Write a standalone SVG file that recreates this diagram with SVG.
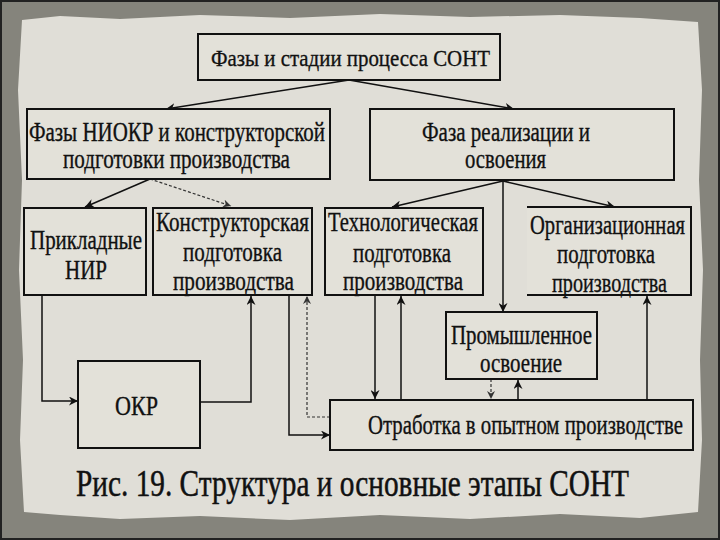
<svg xmlns="http://www.w3.org/2000/svg" width="720" height="540" viewBox="0 0 720 540">
<style>
.box{fill:#e3e1d9;stroke:#111;stroke-width:2}
.t{font-family:"Liberation Serif","Times New Roman","DejaVu Serif",serif;font-size:27px;fill:#111;stroke:#111;stroke-width:0.35}
.c{fill:none;stroke:#111;stroke-width:1.5}
.d{fill:none;stroke:#333;stroke-width:1.2;stroke-dasharray:3 2}
</style>
<defs>
<marker id="a" viewBox="0 0 10 10" refX="10" refY="5" markerWidth="9" markerHeight="9" markerUnits="userSpaceOnUse" orient="auto">
<path d="M0,0 L10,5 L0,10 L3,5 Z" fill="#111"/>
</marker>
<marker id="ad" viewBox="0 0 10 10" refX="10" refY="5" markerWidth="8" markerHeight="8" markerUnits="userSpaceOnUse" orient="auto">
<path d="M0,0 L10,5 L0,10 L3,5 Z" fill="#333"/>
</marker>
</defs>
<rect x="0" y="0" width="720" height="540" fill="#85847c"/>
<path d="M22,20 L60,16 L120,19 L200,15 L290,18 L380,14 L470,17 L560,15 L640,18 L698,22 L702,90 L699,180 L703,270 L700,360 L702,440 L698,512 L640,518 L560,514 L470,519 L380,515 L290,520 L200,516 L120,519 L60,515 L24,512 L20,440 L23,360 L19,270 L22,180 L18,90 Z" fill="#e0ded7"/>
<rect x="1" y="1" width="718" height="538" fill="none" stroke="#222" stroke-width="2"/>

<g id="connectors">
<path class="c" d="M349,80 L166,109" marker-end="url(#a)"/>
<path class="c" d="M349,80 L514,109" marker-end="url(#a)"/>
<path class="c" d="M150,179 L85,207" marker-end="url(#a)"/>
<path class="d" d="M150,179 L231,206" marker-end="url(#ad)"/>
<path class="c" d="M503,181 L392,207" marker-end="url(#a)"/>
<path class="c" d="M503,181 L615,207" marker-end="url(#a)"/>
<path class="c" d="M503,181 L503,312" marker-end="url(#a)"/>
<path class="c" d="M42,295 L42,401 L78,401" marker-end="url(#a)"/>
<path class="c" d="M200,402 L251,402 L251,296" marker-end="url(#a)"/>
<path class="c" d="M289,295 L289,435 L330,435" marker-end="url(#a)"/>
<path class="d" d="M330,417 L307,417 L307,296" marker-end="url(#ad)"/>
<path class="c" d="M375,295 L375,399" marker-end="url(#a)"/>
<path class="c" d="M401,400 L401,296" marker-end="url(#a)"/>
<path class="d" d="M491,379 L491,399" marker-end="url(#ad)"/>
<path class="c" d="M518,400 L518,380" marker-end="url(#a)"/>
<path class="c" d="M647,400 L647,296" marker-end="url(#a)"/>
</g>

<g id="n-top">
<rect class="box" x="198" y="34" width="302" height="46"/>
<text class="t" x="211" y="66" style="font-size:24px" textLength="279" lengthAdjust="spacingAndGlyphs">Фазы и стадии процесса СОНТ</text>
</g>
<g id="n-niokr">
<rect class="box" x="27" y="109" width="303" height="70"/>
<text class="t" x="29" y="141" textLength="296" lengthAdjust="spacingAndGlyphs">Фазы НИОКР и конструкторской</text>
<text class="t" x="63" y="168" textLength="227" lengthAdjust="spacingAndGlyphs">подготовки производства</text>
</g>
<g id="n-real">
<rect class="box" x="370" y="109" width="304" height="71"/>
<text class="t" x="422" y="141" textLength="168" lengthAdjust="spacingAndGlyphs">Фаза реализации и</text>
<text class="t" x="465" y="168" textLength="81" lengthAdjust="spacingAndGlyphs">освоения</text>
</g>
<g id="n-nir">
<rect class="box" x="24" y="208" width="122" height="87"/>
<text class="t" x="30" y="249" textLength="112" lengthAdjust="spacingAndGlyphs">Прикладные</text>
<text class="t" x="65" y="279" textLength="42" lengthAdjust="spacingAndGlyphs">НИР</text>
</g>
<g id="n-konstr">
<rect class="box" x="153" y="208" width="159" height="87"/>
<text class="t" x="156" y="231" textLength="153" lengthAdjust="spacingAndGlyphs">Конструкторская</text>
<text class="t" x="183" y="261" textLength="99" lengthAdjust="spacingAndGlyphs">подготовка</text>
<text class="t" x="173" y="290" textLength="121" lengthAdjust="spacingAndGlyphs">производства</text>
</g>
<g id="n-tech">
<rect class="box" x="325" y="208" width="158" height="87"/>
<text class="t" x="328" y="231" textLength="150" lengthAdjust="spacingAndGlyphs">Технологическая</text>
<text class="t" x="353" y="262" textLength="98" lengthAdjust="spacingAndGlyphs">подготовка</text>
<text class="t" x="343" y="290" textLength="120" lengthAdjust="spacingAndGlyphs">производства</text>
</g>
<g id="n-org">
<rect x="527" y="207" width="164" height="88" fill="#e3e1d9"/>
<path d="M527,207 L691,207 L691,295 L527,295" fill="none" stroke="#111" stroke-width="2"/>
<text class="t" x="530" y="234" textLength="155" lengthAdjust="spacingAndGlyphs">Организационная</text>
<text class="t" x="557" y="263" textLength="98" lengthAdjust="spacingAndGlyphs">подготовка</text>
<text class="t" x="552" y="292" textLength="115" lengthAdjust="spacingAndGlyphs">производства</text>
</g>
<g id="n-prom">
<rect class="box" x="446" y="312" width="151" height="67"/>
<text class="t" x="451" y="344" textLength="141" lengthAdjust="spacingAndGlyphs">Промышленное</text>
<text class="t" x="480" y="372" textLength="82" lengthAdjust="spacingAndGlyphs">освоение</text>
</g>
<g id="n-okr">
<rect class="box" x="78" y="361" width="122" height="87"/>
<text class="t" x="115" y="415" textLength="43" lengthAdjust="spacingAndGlyphs">ОКР</text>
</g>
<g id="n-otrab">
<rect class="box" x="330" y="400" width="363" height="50"/>
<text class="t" x="368" y="434" textLength="315" lengthAdjust="spacingAndGlyphs">Отработка в опытном производстве</text>
</g>
<text class="t" x="76" y="496" style="font-size:37px;stroke-width:0.5" textLength="553" lengthAdjust="spacingAndGlyphs">Рис. 19. Структура и основные этапы СОНТ</text>
</svg>
